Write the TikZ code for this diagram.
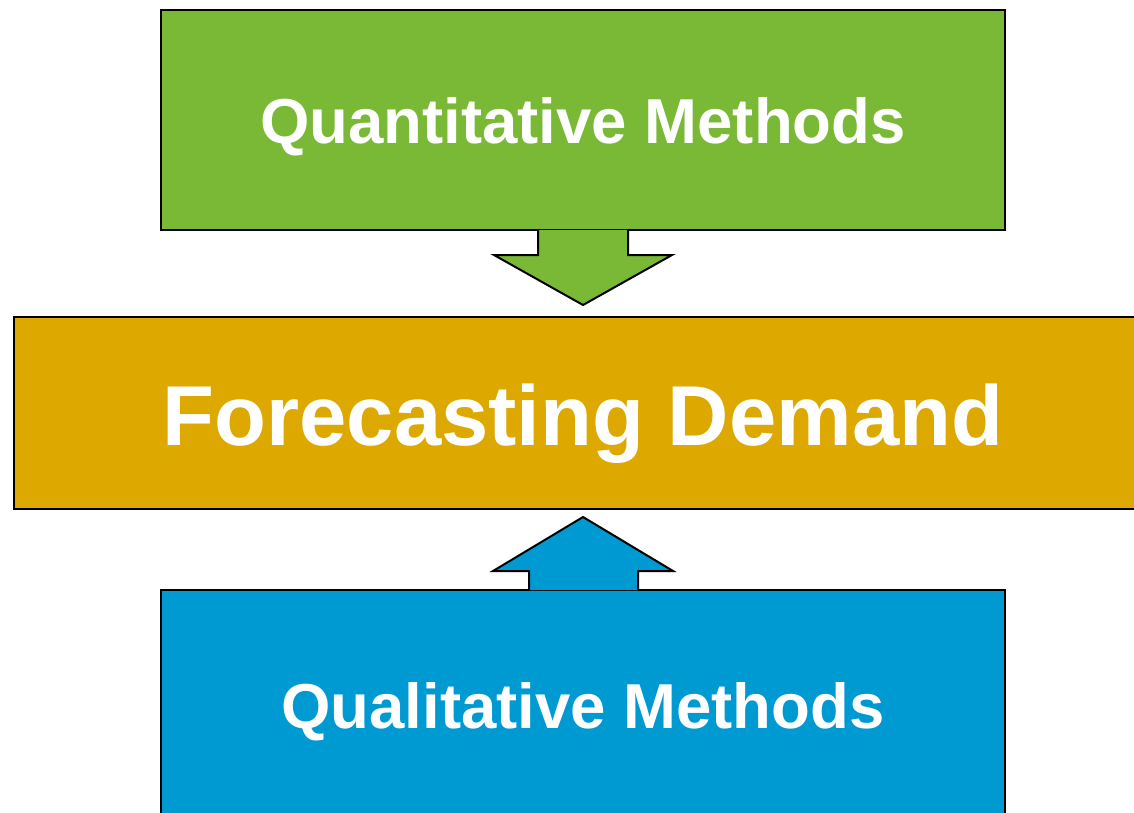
\documentclass[tikz,border=0pt]{standalone}
\usepackage{fontspec}
\setmainfont{Liberation Sans}
\usetikzlibrary{positioning, calc}
\definecolor{quantgreen}{HTML}{7AB935}
\definecolor{forecastgold}{HTML}{DDA900}
\definecolor{qualblue}{HTML}{009AD3}

\begin{document}
\begin{tikzpicture}[x = 1pt, y = -1pt, line width = 2pt,
    every node/.style = { draw, shape = rectangle, inner sep = 0pt, text = white, text depth = 0pt },
    methodbox/.style = { minimum width = 844pt, minimum height = 220pt, font = \fontsize{63.5}{63.5}\selectfont\bfseries },
    blockarrow/.style = { draw, line join = miter }]
    \useasboundingbox (0,0) rectangle (1134,812);
    \clip (0,0) rectangle (1134,812);
    \node (quant) [methodbox, fill = quantgreen, text height = 46pt] at (583,120) { Quantitative Methods };
    \node (demand) [fill = forecastgold, minimum width = 1138pt, minimum height = 192pt, text height = 64pt,
      font = \fontsize{85}{85}\selectfont\bfseries] at (583,413) { Forecasting Demand };
    \node (qual) [methodbox, fill = qualblue, minimum height = 232pt, text height = 44pt] at (583,706) { Qualitative Methods };
    % down arrow into demand
    \path[blockarrow, fill = quantgreen] ($(quant.south)+(-45,-1)$) |- ++(-44,25)
      -- ($(quant.south)+(0,74)$) -- ($(quant.south)+(89,24)$) -| ($(quant.south)+(45,-1)$);
    % up arrow into demand
    \path[blockarrow, fill = qualblue] ($(qual.north)+(-54,1)$) |- ++(-36,-19)
      -- ($(qual.north)+(0,-72)$) -- ($(qual.north)+(90,-18)$) -| ($(qual.north)+(55,1)$);
\end{tikzpicture}
\end{document}
